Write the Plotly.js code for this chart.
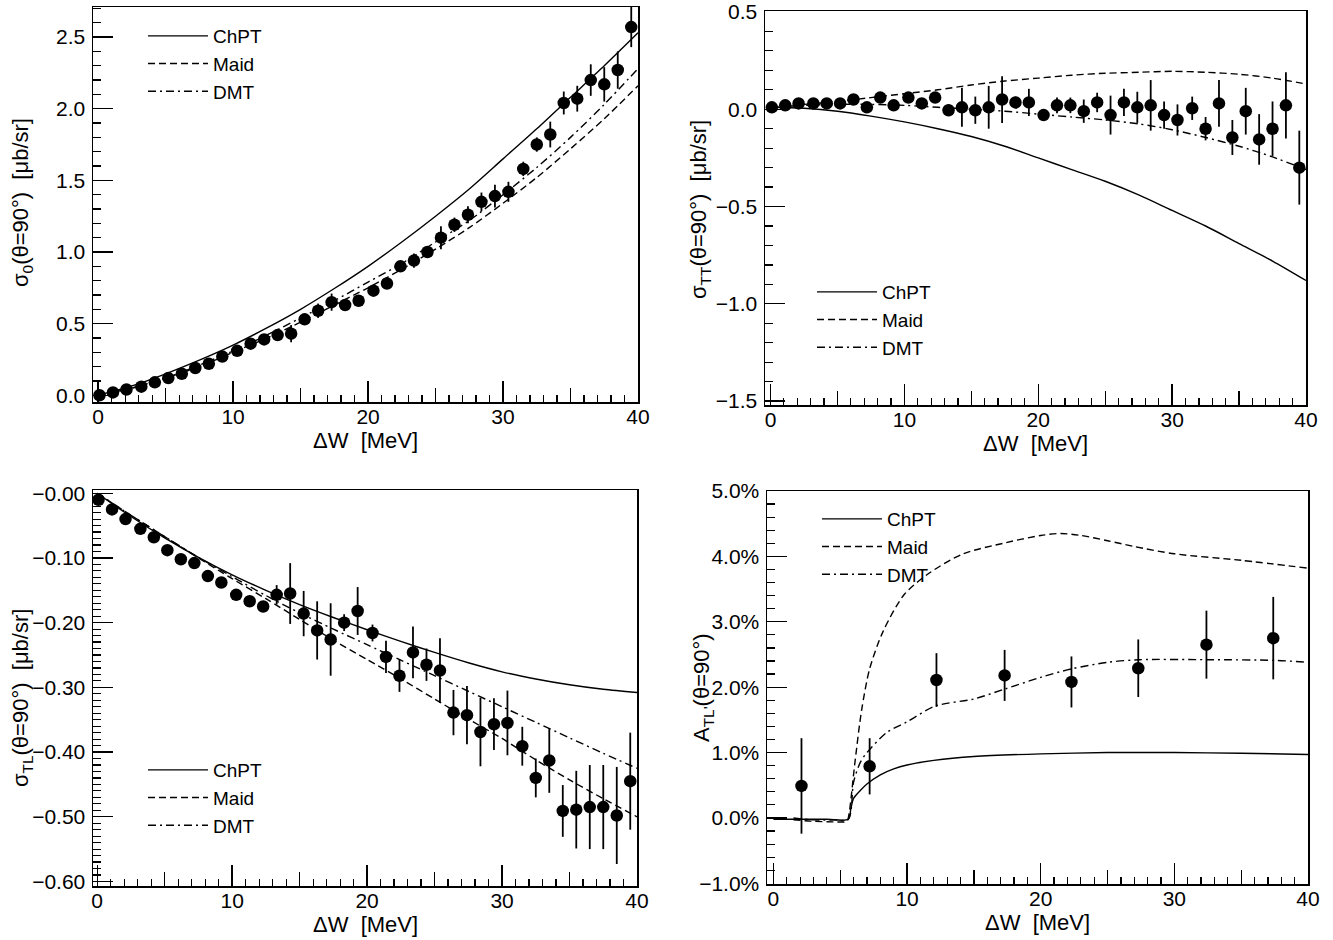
<!DOCTYPE html>
<html>
<head>
<meta charset="utf-8">
<script src="https://cdn.plot.ly/plotly-3.0.1.min.js"></script>
<style>html,body{margin:0;padding:0;background:#fff;}#chart{width:1333px;height:940px;}</style>
</head>
<body>
<div id="chart"></div>
<script>
// ---------- data points (ΔW in MeV) ----------
const dW = [0.1, 1.1, 2.1, 3.2, 4.2, 5.2, 6.2, 7.2, 8.2, 9.2, 10.3, 11.3, 12.3, 13.3, 14.3, 15.3, 16.3, 17.3, 18.3, 19.3,
            20.4, 21.4, 22.4, 23.4, 24.4, 25.4, 26.4, 27.4, 28.4, 29.4, 30.4, 31.5, 32.5, 33.5, 34.5, 35.5, 36.5, 37.5, 38.5, 39.5];

const sigma0 = [0.00, 0.02, 0.04, 0.06, 0.09, 0.12, 0.15, 0.19, 0.22, 0.27, 0.31, 0.36, 0.39, 0.42, 0.43, 0.53, 0.59, 0.65, 0.63, 0.66,
                0.73, 0.78, 0.90, 0.94, 1.00, 1.10, 1.19, 1.26, 1.35, 1.39, 1.42, 1.58, 1.75, 1.82, 2.04, 2.07, 2.20, 2.17, 2.27, 2.57];
const sigma0Err = [0.01, 0.01, 0.01, 0.01, 0.01, 0.01, 0.01, 0.01, 0.01, 0.015, 0.015, 0.015, 0.015, 0.015, 0.06, 0.03, 0.05, 0.06, 0.02, 0.04,
                   0.02, 0.02, 0.03, 0.05, 0.04, 0.08, 0.05, 0.06, 0.065, 0.08, 0.07, 0.05, 0.05, 0.09, 0.08, 0.09, 0.11, 0.12, 0.13, 0.14];

const sigmaTT = [0.01, 0.02, 0.03, 0.03, 0.03, 0.03, 0.05, 0.01, 0.06, 0.02, 0.06, 0.03, 0.06, -0.005, 0.01, -0.005, 0.01, 0.05, 0.035, 0.035,
                 -0.03, 0.02, 0.02, -0.01, 0.035, -0.03, 0.035, 0.01, 0.02, -0.03, -0.055, 0.005, -0.10, 0.03, -0.145, -0.01, -0.155, -0.10, 0.02, -0.30];
const sigmaTTErr = [0.01, 0.01, 0.01, 0.01, 0.01, 0.01, 0.01, 0.01, 0.01, 0.01, 0.01, 0.01, 0.015, 0.03, 0.10, 0.07, 0.11, 0.12, 0.03, 0.07,
                    0.02, 0.04, 0.04, 0.06, 0.05, 0.10, 0.07, 0.08, 0.13, 0.07, 0.08, 0.06, 0.06, 0.12, 0.09, 0.12, 0.13, 0.14, 0.17, 0.19];

const sigmaTL = [-0.010, -0.025, -0.040, -0.055, -0.068, -0.088, -0.102, -0.108, -0.128, -0.138, -0.157, -0.167, -0.175, -0.157, -0.155, -0.186, -0.212, -0.226, -0.200, -0.182,
                 -0.216, -0.253, -0.282, -0.246, -0.265, -0.274, -0.339, -0.343, -0.369, -0.357, -0.355, -0.391, -0.440, -0.413, -0.491, -0.489, -0.485, -0.485, -0.498, -0.445];
const sigmaTLErr = [0.003, 0.003, 0.003, 0.003, 0.003, 0.003, 0.003, 0.003, 0.006, 0.007, 0.006, 0.006, 0.008, 0.015, 0.047, 0.035, 0.045, 0.056, 0.013, 0.037,
                    0.013, 0.025, 0.025, 0.04, 0.025, 0.05, 0.035, 0.045, 0.053, 0.04, 0.05, 0.03, 0.03, 0.05, 0.04, 0.06, 0.065, 0.065, 0.075, 0.075];

const dWA = [2.1, 7.2, 12.2, 17.3, 22.3, 27.3, 32.4, 37.4];
const asymTL = [0.49, 0.79, 2.11, 2.18, 2.08, 2.29, 2.65, 2.75];
const asymTLErr = [0.73, 0.43, 0.41, 0.39, 0.39, 0.44, 0.52, 0.63];

// ---------- model curves ----------
const curveW = [0, 2.5, 5, 7.5, 10, 12.5, 15, 17.5, 20, 22.5, 25, 27.5, 30, 32.5, 35, 37.5, 40];

const s0ChPT = [0.0, 0.065, 0.15, 0.245, 0.35, 0.47, 0.60, 0.745, 0.90, 1.07, 1.25, 1.44, 1.65, 1.86, 2.08, 2.30, 2.53];
const s0Maid = [0.0, 0.05, 0.12, 0.20, 0.30, 0.40, 0.51, 0.63, 0.75, 0.88, 1.02, 1.17, 1.34, 1.52, 1.72, 1.93, 2.16];
const s0DMT  = [0.0, 0.05, 0.12, 0.21, 0.31, 0.42, 0.54, 0.66, 0.79, 0.92, 1.07, 1.22, 1.40, 1.59, 1.80, 2.03, 2.28];

const sTTChPT = [0.01, 0.005, -0.01, -0.035, -0.065, -0.10, -0.14, -0.19, -0.25, -0.31, -0.37, -0.44, -0.52, -0.60, -0.69, -0.78, -0.88];
const sTTMaid = [0.01, 0.025, 0.04, 0.06, 0.08, 0.10, 0.125, 0.145, 0.16, 0.175, 0.185, 0.19, 0.195, 0.19, 0.18, 0.16, 0.13];
const sTTDMT  = [0.01, 0.02, 0.025, 0.025, 0.02, 0.01, 0.0, -0.01, -0.025, -0.04, -0.055, -0.075, -0.105, -0.145, -0.19, -0.245, -0.31];

const sTLChPT = [0.0, -0.036, -0.069, -0.099, -0.126, -0.150, -0.172, -0.192, -0.211, -0.229, -0.246, -0.262, -0.276, -0.287, -0.296, -0.303, -0.308];
const sTLMaid = [0.0, -0.034, -0.067, -0.100, -0.132, -0.163, -0.195, -0.227, -0.257, -0.287, -0.318, -0.349, -0.379, -0.412, -0.443, -0.472, -0.500];
const sTLDMT  = [0.0, -0.034, -0.067, -0.099, -0.129, -0.158, -0.185, -0.210, -0.234, -0.258, -0.282, -0.306, -0.330, -0.354, -0.378, -0.402, -0.425];

const aChPTW = [0, 2, 4, 5.6, 5.8, 6, 6.5, 7, 8, 9, 10, 12, 15, 20, 25, 30, 35, 40];
const aChPT  = [-0.02, -0.02, -0.02, -0.02, 0.15, 0.30, 0.42, 0.52, 0.66, 0.75, 0.81, 0.88, 0.94, 0.98, 1.00, 1.00, 0.99, 0.97];
const aMaidW = [1.5, 3, 4.5, 5.5, 5.64, 6.1, 6.6, 7.2, 8.2, 9.8, 11.7, 14.2, 17.4, 20, 21.5, 23, 25, 27, 30, 35, 40];
const aMaid  = [-0.03, -0.05, -0.06, -0.05, 0.04, 0.85, 1.65, 2.28, 2.85, 3.42, 3.75, 4.04, 4.21, 4.32, 4.35, 4.32, 4.24, 4.15, 4.04, 3.94, 3.82];
const aDMTW  = [1.5, 3, 4.5, 5.6, 6.0, 6.5, 7.0, 8.5, 10, 12.1, 15, 17.3, 20, 22.3, 25, 27.4, 32.5, 37.5, 40];
const aDMT   = [0.0, -0.03, -0.03, -0.02, 0.55, 0.85, 1.0, 1.31, 1.47, 1.71, 1.82, 1.97, 2.15, 2.28, 2.38, 2.42, 2.42, 2.41, 2.38];

// ---------- tick labels ----------
const xTickVals = [0, 10, 20, 30, 40];
const xMidTicks = [5, 15, 25, 35];
const y1Vals = [0, 0.5, 1.0, 1.5, 2.0, 2.5];
const y1Text = ['0.0', '0.5', '1.0', '1.5', '2.0', '2.5'];
const y2Vals = [-1.5, -1.0, -0.5, 0, 0.5];
const y2Text = ['\u22121.5', '\u22121.0', '\u22120.5', '0.0', '0.5'];
const y3Vals = [0, -0.1, -0.2, -0.3, -0.4, -0.5, -0.6];
const y3Text = ['\u22120.00', '\u22120.10', '\u22120.20', '\u22120.30', '\u22120.40', '\u22120.50', '\u22120.60'];
const y4Vals = [-1, 0, 1, 2, 3, 4, 5];
const y4Text = ['\u22121.0%', '0.0%', '1.0%', '2.0%', '3.0%', '4.0%', '5.0%'];

const modelNames = ['ChPT', 'Maid', 'DMT'];

// ---------- styling helpers ----------
const W = 1333, H = 940;
const FONT = 'Liberation Sans, Arial, Helvetica, sans-serif';
const px = v => v / W;
const py = v => 1 - v / H;
const dashes = ['solid', '7px,4px', '8px,4px,2px,4px'];

function modelTraces(xs, ys, ax, legendId, shape) {
  return ys.map((y, i) => ({
    type: 'scatter', mode: 'lines', x: xs[i], y: y, name: modelNames[i],
    xaxis: 'x' + ax, yaxis: 'y' + ax, legend: legendId,
    line: {color: '#000', width: 1.4, dash: dashes[i], shape: shape, smoothing: 0.8},
    hoverinfo: 'skip'
  }));
}
function dataTrace(xs, ys, errs, ax) {
  return {
    type: 'scatter', mode: 'markers', x: xs, y: ys, showlegend: false,
    xaxis: 'x' + ax, yaxis: 'y' + ax,
    marker: {color: '#000', size: 12.5},
    error_y: {type: 'data', array: errs, visible: true, color: '#000', thickness: 1.8, width: 0}
  };
}
function midTickTrace(ax, n) {
  return {type: 'scatter', mode: 'markers', x: [], y: [], xaxis: 'x' + n, yaxis: 'y' + ax, showlegend: false, hoverinfo: 'skip'};
}

const traces = [].concat(
  modelTraces([curveW, curveW, curveW], [s0ChPT, s0Maid, s0DMT], '', 'legend', 'spline'),
  [dataTrace(dW, sigma0, sigma0Err, '')],
  modelTraces([curveW, curveW, curveW], [sTTChPT, sTTMaid, sTTDMT], '2', 'legend2', 'spline'),
  [dataTrace(dW, sigmaTT, sigmaTTErr, '2')],
  modelTraces([curveW, curveW, curveW], [sTLChPT, sTLMaid, sTLDMT], '3', 'legend3', 'spline'),
  [dataTrace(dW, sigmaTL, sigmaTLErr, '3')],
  modelTraces([aChPTW, aMaidW, aDMTW], [aChPT, aMaid, aDMT], '4', 'legend4', 'spline'),
  [dataTrace(dWA, asymTL, asymTLErr, '4')],
  [midTickTrace('', 5), midTickTrace('2', 6), midTickTrace('3', 7), midTickTrace('4', 8)]
);

// panel frames in pixels: [left, right, top, bottom]
const frames = [
  [93, 638, 7, 402],
  [765, 1306, 11, 405],
  [93, 637, 490, 886],
  [767, 1308, 491, 884]
];
const xRanges = [[-0.38, 40], [-0.41, 40], [-0.31, 40], [-0.48, 40]];
const yRanges = [[-0.047, 2.71], [-1.52, 0.505], [-0.607, 0.005], [-1.01, 5.0]];
const yTicks = [[y1Vals, y1Text, 0.1], [y2Vals, y2Text, 0.1], [y3Vals, y3Text, 0.01], [y4Vals, y4Text, 0.2]];

const layout = {
  width: W, height: H,
  margin: {l: 0, r: 0, t: 0, b: 0},
  paper_bgcolor: '#fff', plot_bgcolor: '#fff',
  font: {family: FONT, size: 20, color: '#000'},
  annotations: []
};

frames.forEach((f, i) => {
  const s = i === 0 ? '' : String(i + 1);
  const xd = [px(f[0]), px(f[1])];
  const yd = [py(f[3]), py(f[2])];
  layout['xaxis' + s] = {
    domain: xd, anchor: 'y' + s, range: xRanges[i],
    tickmode: 'array', tickvals: xTickVals,
    ticks: 'inside', ticklen: 21, tickwidth: 1.3, tickcolor: '#000',
    showline: true, linecolor: '#000', linewidth: 1.5, mirror: true,
    showgrid: false, zeroline: false, ticklabelstandoff: -5,
    tickfont: {family: FONT, size: 21, color: '#000'},
    minor: {tickmode: 'linear', tick0: 0, dtick: 1, ticks: 'inside', ticklen: 7, tickwidth: 1.2, tickcolor: '#000', showgrid: false}
  };
  layout['yaxis' + s] = {
    domain: yd, anchor: 'x' + s, range: yRanges[i],
    tickmode: 'array', tickvals: yTicks[i][0], ticktext: yTicks[i][1],
    ticks: 'inside', ticklen: 20, tickwidth: 1.3, tickcolor: '#000',
    showline: true, linecolor: '#000', linewidth: 1.5, mirror: true,
    showgrid: false, zeroline: false, ticklabelstandoff: 2,
    tickfont: {family: FONT, size: 21, color: '#000'},
    minor: {tickmode: 'linear', tick0: 0, dtick: yTicks[i][2], ticks: 'inside', ticklen: 8, tickwidth: 1.2, tickcolor: '#000', showgrid: false}
  };
  layout['xaxis' + (i + 5)] = {
    overlaying: 'x' + s, anchor: 'y' + s, range: xRanges[i], side: 'bottom',
    tickmode: 'array', tickvals: xMidTicks, showticklabels: false,
    ticks: 'inside', ticklen: 14, tickwidth: 1.3, tickcolor: '#000',
    showline: false, showgrid: false, zeroline: false
  };
  // x-axis title
  layout.annotations.push({
    text: '\u0394W\u00a0\u00a0[MeV]', xref: 'paper', yref: 'paper',
    x: px((f[0] + f[1]) / 2), y: py(f[3] + 38), xanchor: 'center', yanchor: 'middle',
    showarrow: false, font: {family: FONT, size: 22, color: '#000'}
  });
});

const yTitles = [
  ['\u03c3<sub>0</sub>(\u03b8=90\u00b0)\u00a0\u00a0[\u03bcb/sr]', 22, 203],
  ['\u03c3<sub>TT</sub>(\u03b8=90\u00b0)\u00a0\u00a0[\u03bcb/sr]', 700, 210],
  ['\u03c3<sub>TL</sub>(\u03b8=90\u00b0)\u00a0\u00a0[\u03bcb/sr]', 22, 698],
  ['A<sub>TL\'</sub>(\u03b8=90\u00b0)', 703, 688]
];
yTitles.forEach(t => layout.annotations.push({
  text: t[0], xref: 'paper', yref: 'paper', x: px(t[1]), y: py(t[2]),
  xanchor: 'center', yanchor: 'middle', textangle: -90, showarrow: false,
  font: {family: FONT, size: 22, color: '#000'}
}));

const legendPos = [[143, 17], [812, 273], [143, 751], [817, 500]];
['legend', 'legend2', 'legend3', 'legend4'].forEach((id, i) => {
  layout[id] = {
    x: px(legendPos[i][0]), y: py(legendPos[i][1]), xanchor: 'left', yanchor: 'top',
    bgcolor: 'rgba(0,0,0,0)', borderwidth: 0, itemwidth: 60,
    font: {family: FONT, size: 19, color: '#000'}, tracegroupgap: 0
  };
});

Plotly.newPlot('chart', traces, layout, {staticPlot: true, displayModeBar: false});
</script>
</body>
</html>
